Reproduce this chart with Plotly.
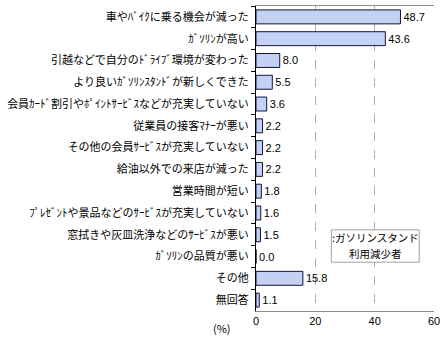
import plotly.graph_objects as go

categories = [
    "車やﾊﾞｲｸに乗る機会が減った",
    "ｶﾞｿﾘﾝが高い",
    "引越などで自分のﾄﾞﾗｲﾌﾞ環境が変わった",
    "より良いｶﾞｿﾘﾝｽﾀﾝﾄﾞが新しくできた",
    "会員ｶｰﾄﾞ割引やﾎﾟｲﾝﾄｻｰﾋﾞｽなどが充実していない",
    "従業員の接客ﾏﾅｰが悪い",
    "その他の会員ｻｰﾋﾞｽが充実していない",
    "給油以外での来店が減った",
    "営業時間が短い",
    "ﾌﾟﾚｾﾞﾝﾄや景品などのｻｰﾋﾞｽが充実していない",
    "窓拭きや灰皿洗浄などのｻｰﾋﾞｽが悪い",
    "ｶﾞｿﾘﾝの品質が悪い",
    "その他",
    "無回答",
]
values = [48.7, 43.6, 8.0, 5.5, 3.6, 2.2, 2.2, 2.2, 1.8, 1.6, 1.5, 0.0, 15.8, 1.1]
x_ticks = [0, 20, 40, 60]
series_lines = [":ガソリンスタンド", "利用減少者"]

JP = "Noto Sans CJK JP"

fig = go.Figure()
fig.add_trace(go.Bar(
    x=values,
    y=categories,
    orientation="h",
    marker=dict(color="#c3d1f5", line=dict(color="#141438", width=1)),
    text=[f"{v:.1f}" for v in values],
    textposition="outside",
    textfont=dict(family="Liberation Sans", size=11, color="#000"),
    cliponaxis=False,
    width=0.64,
    showlegend=False,
))

fig.update_layout(
    width=445,
    height=340,
    margin=dict(l=256, r=11, t=6, b=29),
    paper_bgcolor="white",
    plot_bgcolor="white",
    font=dict(family=JP, size=11, color="#000"),
    xaxis=dict(
        range=[0, 60],
        tickvals=x_ticks,
        ticktext=[str(t) for t in x_ticks],
        showgrid=True,
        gridcolor="#b0b0b0",
        griddash="dash",
        gridwidth=1,
        zeroline=False,
        showline=True,
        linecolor="#8c8c8c",
        mirror=True,
        ticks="",
        tickfont=dict(family="Liberation Sans", size=11),
    ),
    yaxis=dict(
        autorange="reversed",
        showline=True,
        linecolor="#000",
        ticks="outside",
        tickson="boundaries",
        ticklen=4,
        tickcolor="#000",
        showgrid=False,
        ticklabelstandoff=4,
        tickfont=dict(family=JP, size=11),
    ),
    bargap=0.36,
)

# Unit label left of the x axis ticks
fig.add_annotation(
    text="(%)", xref="paper", yref="paper", x=-0.13, y=0, yshift=-17,
    xanchor="right", yanchor="middle", showarrow=False,
    font=dict(family=JP, size=11),
)

# Series key box
box_x0, box_x1 = 25.4, 55.0
box_y0, box_y1 = 0.160, 0.266
fig.add_shape(
    type="rect", xref="x", yref="paper",
    x0=box_x0, x1=box_x1, y0=box_y0, y1=box_y1,
    line=dict(color="#a0a0a0", width=1), fillcolor="white", layer="above",
)
mid_x = (box_x0 + box_x1) / 2
fig.add_annotation(
    text=series_lines[0], xref="x", yref="paper", x=mid_x, y=box_y1, yshift=-8,
    xanchor="center", yanchor="middle", showarrow=False,
    font=dict(family=JP, size=10.5),
)
fig.add_annotation(
    text=series_lines[1], xref="x", yref="paper", x=mid_x, y=box_y0, yshift=9,
    xanchor="center", yanchor="middle", showarrow=False,
    font=dict(family=JP, size=10.5),
)

fig.write_html("out.html")
